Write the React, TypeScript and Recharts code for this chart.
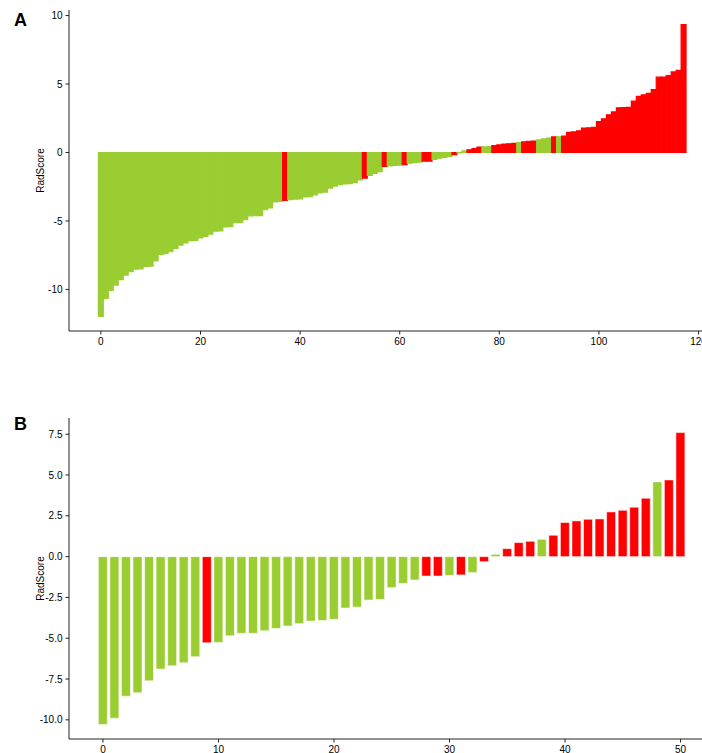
import React from 'react';
import { BarChart, Bar, XAxis, YAxis, Cell, Label } from 'recharts';

// Panel A: sorted RadScore values (118 samples)
const scoresA: number[] = [
  -11.97, -10.66, -10.07, -9.68, -9.29, -8.95, -8.71, -8.52, -8.50, -8.33,
  -8.30, -7.91, -7.45, -7.39, -7.25, -7.00, -6.76, -6.61, -6.43, -6.42,
  -6.23, -6.13, -5.96, -5.75, -5.73, -5.43, -5.42, -5.12, -5.10, -4.91,
  -4.63, -4.62, -4.61, -4.18, -4.04, -3.60, -3.58, -3.50, -3.45, -3.40,
  -3.38, -3.25, -3.22, -3.10, -2.95, -2.90, -2.60, -2.45, -2.35, -2.30,
  -2.28, -2.20, -2.00, -1.87, -1.68, -1.53, -1.39, -1.02, -0.98, -0.95,
  -0.93, -0.88, -0.78, -0.74, -0.70, -0.63, -0.63, -0.50, -0.42, -0.35,
  -0.28, -0.15, -0.03, 0.12, 0.20, 0.28, 0.40, 0.42, 0.43, 0.50,
  0.55, 0.62, 0.64, 0.66, 0.72, 0.78, 0.82, 0.84, 0.92, 1.00,
  1.05, 1.14, 1.15, 1.20, 1.47, 1.50, 1.58, 1.78, 1.80, 1.84,
  2.25, 2.46, 2.75, 2.96, 3.26, 3.27, 3.30, 3.75, 4.10, 4.21,
  4.32, 4.59, 5.50, 5.51, 5.62, 5.88, 5.99, 9.34,
];
// indices of samples in the red (positive label) group, panel A
const redIdxA: number[] = [
  37, 53, 57, 61, 65, 66, 71, 74, 75, 76, 79, 80, 81, 82, 83, 85, 86, 87, 91,
  93, 94, 95, 96, 97, 98, 99, 100, 101, 102, 103, 104, 105, 106, 107, 108, 109,
  110, 111, 112, 113, 114, 115, 116, 117,
];

// Panel B: sorted RadScore values (51 samples)
const scoresB: number[] = [
  -10.28, -9.90, -8.55, -8.34, -7.61, -6.89, -6.69, -6.50, -6.13, -5.28,
  -5.26, -4.85, -4.70, -4.70, -4.54, -4.40, -4.25, -4.11, -3.95, -3.91,
  -3.84, -3.15, -3.09, -2.66, -2.62, -1.90, -1.64, -1.43, -1.19, -1.19,
  -1.15, -1.12, -0.98, -0.31, 0.14, 0.49, 0.86, 0.94, 1.06, 1.31,
  2.09, 2.19, 2.29, 2.31, 2.74, 2.84, 3.03, 3.58, 4.58, 4.70,
  7.60,
];
const redIdxB: number[] = [
  9, 28, 29, 31, 33, 35, 36, 37, 39, 40, 41, 42, 43, 44, 45, 46, 47, 49, 50,
];

const xTicksA: number[] = [0, 20, 40, 60, 80, 100, 120];
const yTicksA: number[] = [-10, -5, 0, 5, 10];
const xTicksB: number[] = [0, 10, 20, 30, 40, 50];
const yTicksB: number[] = [-10, -7.5, -5, -2.5, 0, 2.5, 5, 7.5];

const GREEN = '#9ACD32';
const RED = '#FF0000';
const FONT = '"Liberation Sans", Arial, sans-serif';
const AXIS = '#222';

const dataA = scoresA.map((v, i) => ({ idx: i, score: v, red: redIdxA.includes(i) }));
const dataB = scoresB.map((v, i) => ({ idx: i, score: v, red: redIdxB.includes(i) }));

function padDomain(lo: number, hi: number): [number, number] {
  const r = hi - lo;
  return [lo - 0.05 * r, hi + 0.05 * r];
}

const xDomA = padDomain(-0.5, scoresA.length - 0.5);
const yDomA = padDomain(Math.min(...scoresA), Math.max(...scoresA));
const xDomB = padDomain(-0.4, scoresB.length - 1 + 0.4);
const yDomB = padDomain(Math.min(...scoresB), Math.max(...scoresB));

const fmtMinus = (s: string) => s.replace('\u2212', '-');
const tickStyle = { fill: '#000', fontSize: 10, fontFamily: FONT };

function Panel(props: {
  data: { idx: number; score: number; red: boolean }[];
  xDom: [number, number];
  yDom: [number, number];
  xTicks: number[];
  yTicks: number[];
  yFmt: (v: number) => string;
  height: number;
  rightMargin: number;
  xAxisHeight: number;
  barSize?: number;
  thin: boolean;
}) {
  const { data, xDom, yDom, xTicks, yTicks, yFmt, height, rightMargin, xAxisHeight, barSize, thin } = props;
  return (
    <BarChart
      width={730}
      height={height}
      data={data}
      margin={{ top: 10, right: rightMargin, bottom: 0, left: 0 }}
      barCategoryGap={thin ? 0 : '10%'}
    >
      <XAxis
        dataKey="idx"
        type="number"
        domain={xDom}
        ticks={xTicks}
        interval={0}
        height={xAxisHeight}
        tickSize={3.5}
        tickMargin={3}
        tick={tickStyle}
        tickFormatter={(v: number) => fmtMinus(String(v))}
        stroke={AXIS}
        allowDataOverflow
      />
      <XAxis
        xAxisId="top"
        orientation="top"
        dataKey="idx"
        type="number"
        domain={xDom}
        height={0}
        tick={false}
        tickLine={false}
        stroke={AXIS}
        allowDataOverflow
      />
      <YAxis
        type="number"
        domain={yDom}
        ticks={yTicks}
        interval={0}
        width={69}
        tickSize={3.5}
        tickMargin={3}
        tick={tickStyle}
        tickFormatter={yFmt}
        stroke={AXIS}
        allowDataOverflow
      >
        <Label
          value="RadScore"
          angle={-90}
          position="center"
          dx={6}
          style={{ fill: '#000', fontSize: 10, fontFamily: FONT }}
        />
      </YAxis>
      <Bar dataKey="score" isAnimationActive={false} barSize={barSize}>
        {data.map((d) => {
          const c = d.red ? RED : GREEN;
          return thin ? (
            <Cell key={d.idx} fill={c} stroke={c} strokeWidth={1.2} />
          ) : (
            <Cell key={d.idx} fill={c} stroke="#ffffff" strokeOpacity={0.55} strokeWidth={1} />
          );
        })}
      </Bar>
    </BarChart>
  );
}

export default function App() {
  return (
    <div
      style={{
        position: 'absolute',
        left: 0,
        top: 0,
        width: 702,
        height: 753,
        overflow: 'hidden',
        background: '#fff',
      }}
    >
      <div style={{ position: 'absolute', left: 0, top: 0 }}>
        <Panel
          data={dataA}
          xDom={xDomA}
          yDom={yDomA}
          xTicks={xTicksA}
          yTicks={yTicksA}
          yFmt={(v: number) => fmtMinus(String(v))}
          height={356}
          rightMargin={14.5}
          xAxisHeight={25}
          barSize={4.9}
          thin
        />
      </div>
      <div style={{ position: 'absolute', left: 0, top: 408 }}>
        <Panel
          data={dataB}
          xDom={xDomB}
          yDom={yDomB}
          xTicks={xTicksB}
          yTicks={yTicksB}
          yFmt={(v: number) => v.toFixed(1)}
          height={345}
          rightMargin={15.5}
          xAxisHeight={14}
          thin={false}
        />
      </div>
      <div
        style={{
          position: 'absolute',
          left: 14,
          top: 11,
          fontFamily: FONT,
          fontWeight: 'bold',
          fontSize: 18,
          lineHeight: '18px',
          color: '#000',
        }}
      >
        A
      </div>
      <div
        style={{
          position: 'absolute',
          left: 14,
          top: 415,
          fontFamily: FONT,
          fontWeight: 'bold',
          fontSize: 18,
          lineHeight: '18px',
          color: '#000',
        }}
      >
        B
      </div>
    </div>
  );
}
